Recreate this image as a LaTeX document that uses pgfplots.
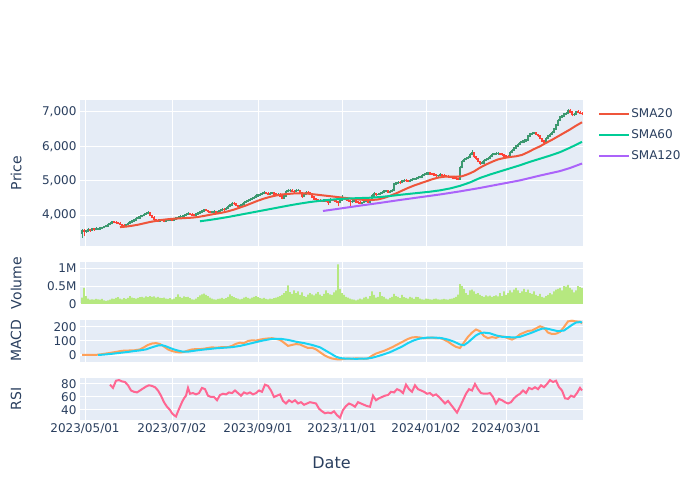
\documentclass[border=0pt]{standalone}
\usepackage{fontspec}
\setmainfont{DejaVu Sans}
\usepackage{pgfplots}
\usepackage{pgfplotstable}
\pgfplotsset{compat=1.18}
\definecolor{bgcol}{HTML}{E5ECF6}
\definecolor{textcol}{HTML}{2A3F5F}
\definecolor{upcol}{HTML}{3D9970}
\definecolor{dncol}{HTML}{FF4136}
\definecolor{smaA}{HTML}{EF553B}
\definecolor{smaB}{HTML}{00CC96}
\definecolor{smaC}{HTML}{AB63FA}
\definecolor{volcol}{HTML}{B6E880}
\definecolor{macdcol}{HTML}{FFA15A}
\definecolor{sigcol}{HTML}{19D3F3}
\definecolor{rsicol}{HTML}{FF6692}

\pgfplotstableread{
x o h l c v
82 3470 3600 3330 3550 0.18
84 3550 3590 3380 3530 0.45
86 3530 3580 3490 3540 0.22
88 3540 3610 3515 3570 0.15
90 3570 3600 3520 3560 0.12
92 3560 3630 3540 3590 0.13
94 3590 3615 3545 3580 0.12
96 3580 3640 3560 3600 0.14
98 3600 3630 3570 3600 0.13
100 3600 3660 3575 3620 0.12
102 3620 3665 3600 3630 0.14
104 3630 3690 3610 3660 0.10
106 3660 3720 3645 3680 0.09
108 3680 3760 3660 3720 0.10
110 3720 3790 3700 3750 0.12
112 3750 3830 3730 3800 0.15
114 3800 3840 3760 3790 0.14
116 3790 3820 3750 3780 0.17
118 3780 3810 3730 3760 0.19
120 3760 3790 3700 3720 0.15
122 3720 3750 3670 3700 0.13
124 3700 3730 3660 3690 0.16
126 3690 3750 3665 3720 0.14
128 3720 3790 3700 3760 0.17
130 3760 3840 3740 3800 0.22
132 3800 3860 3780 3830 0.18
134 3830 3900 3810 3860 0.16
136 3860 3930 3840 3900 0.15
138 3900 3960 3880 3920 0.17
140 3920 3990 3900 3950 0.19
142 3950 4010 3930 3980 0.20
144 3980 4060 3960 4020 0.18
146 4020 4080 4000 4050 0.21
148 4050 4110 4030 4070 0.19
150 4070 4090 3970 3990 0.22
152 3990 4010 3910 3930 0.20
154 3930 3960 3850 3880 0.21
156 3880 3900 3820 3850 0.18
158 3850 3880 3800 3830 0.20
160 3830 3890 3810 3860 0.17
162 3860 3890 3820 3850 0.16
164 3850 3870 3790 3820 0.18
166 3820 3880 3800 3840 0.15
168 3840 3890 3820 3860 0.14
170 3860 3910 3840 3870 0.16
172 3870 3900 3820 3850 0.13
174 3850 3910 3830 3880 0.15
176 3880 3950 3860 3910 0.19
178 3910 3970 3890 3930 0.27
180 3930 3990 3910 3950 0.20
182 3950 4000 3925 3960 0.17
184 3960 4030 3940 3990 0.21
186 3990 4050 3965 4010 0.19
188 4010 4080 3990 4040 0.20
190 4040 4070 3990 4020 0.16
192 4020 4050 3970 4000 0.13
194 4000 4030 3960 3990 0.12
196 3990 4060 3970 4030 0.15
198 4030 4100 4010 4060 0.19
200 4060 4130 4040 4090 0.24
202 4090 4160 4070 4120 0.27
204 4120 4190 4100 4150 0.29
206 4150 4190 4110 4140 0.25
208 4140 4160 4070 4100 0.22
210 4100 4130 4050 4080 0.18
212 4080 4120 4050 4090 0.15
214 4090 4140 4060 4100 0.13
216 4100 4130 4050 4080 0.12
218 4080 4150 4060 4110 0.14
220 4110 4180 4090 4140 0.15
222 4140 4210 4120 4170 0.17
224 4170 4200 4130 4160 0.14
226 4160 4240 4140 4200 0.16
228 4200 4290 4180 4250 0.20
230 4250 4330 4230 4290 0.27
232 4290 4380 4270 4340 0.22
234 4340 4380 4300 4330 0.19
236 4330 4350 4250 4280 0.16
238 4280 4300 4220 4250 0.15
240 4250 4320 4230 4280 0.13
242 4280 4350 4260 4310 0.14
244 4310 4400 4290 4360 0.18
246 4360 4440 4340 4400 0.20
248 4400 4470 4380 4430 0.17
250 4430 4500 4410 4460 0.15
252 4460 4530 4440 4490 0.18
254 4490 4560 4470 4520 0.20
256 4520 4600 4500 4560 0.22
258 4560 4620 4540 4580 0.19
260 4580 4640 4560 4600 0.16
262 4600 4660 4580 4620 0.15
264 4620 4690 4600 4650 0.17
266 4650 4680 4600 4630 0.14
268 4630 4660 4570 4600 0.13
270 4600 4660 4580 4620 0.15
272 4620 4680 4600 4640 0.14
274 4640 4670 4580 4610 0.16
276 4610 4640 4560 4590 0.18
278 4590 4640 4560 4600 0.20
280 4600 4630 4530 4560 0.22
282 4560 4580 4460 4490 0.25
284 4490 4600 4470 4560 0.30
286 4560 4720 4540 4680 0.36
288 4680 4750 4660 4710 0.52
290 4710 4760 4680 4720 0.33
292 4720 4750 4660 4690 0.28
294 4690 4720 4650 4680 0.38
296 4680 4750 4660 4710 0.30
298 4710 4760 4690 4720 0.35
300 4720 4740 4620 4650 0.25
302 4650 4670 4510 4540 0.32
304 4540 4640 4520 4600 0.22
306 4600 4700 4580 4660 0.20
308 4660 4690 4610 4640 0.26
310 4640 4670 4570 4600 0.30
312 4600 4620 4500 4530 0.27
314 4530 4550 4440 4470 0.24
316 4470 4500 4420 4450 0.29
318 4450 4480 4400 4430 0.33
320 4430 4460 4380 4420 0.26
322 4420 4450 4380 4410 0.22
324 4410 4480 4390 4440 0.28
326 4440 4460 4370 4400 0.38
328 4400 4430 4300 4380 0.30
330 4380 4490 4360 4450 0.27
332 4450 4480 4410 4440 0.25
334 4440 4460 4390 4420 0.32
336 4420 4440 4350 4390 0.38
338 4390 4420 4250 4370 1.10
340 4370 4470 4340 4430 0.42
342 4430 4570 4410 4520 0.30
344 4520 4540 4450 4480 0.25
346 4480 4500 4420 4450 0.20
348 4450 4470 4390 4420 0.18
350 4420 4440 4270 4390 0.15
352 4390 4430 4360 4400 0.13
354 4400 4450 4380 4410 0.12
356 4410 4430 4340 4380 0.10
358 4380 4410 4330 4370 0.12
360 4370 4400 4310 4350 0.15
362 4350 4390 4320 4360 0.13
364 4360 4420 4340 4390 0.18
366 4390 4440 4370 4400 0.20
368 4400 4420 4350 4380 0.15
370 4380 4460 4360 4420 0.22
372 4420 4600 4400 4560 0.35
374 4560 4660 4540 4620 0.25
376 4620 4640 4560 4590 0.18
378 4590 4640 4570 4600 0.20
380 4600 4670 4580 4630 0.33
382 4630 4690 4610 4650 0.22
384 4650 4740 4630 4700 0.20
386 4700 4740 4670 4700 0.15
388 4700 4720 4640 4670 0.13
390 4670 4720 4650 4680 0.17
392 4680 4760 4660 4720 0.20
394 4720 4940 4700 4900 0.28
396 4900 4970 4880 4930 0.22
398 4930 4990 4910 4950 0.20
400 4950 4980 4910 4940 0.16
402 4940 5030 4920 4990 0.25
404 4990 5050 4970 5010 0.19
406 5010 5040 4970 5000 0.17
408 5000 5030 4950 4980 0.15
410 4980 5050 4960 5010 0.20
412 5010 5070 4990 5030 0.18
414 5030 5090 5010 5050 0.14
416 5050 5100 5030 5060 0.20
418 5060 5130 5040 5090 0.19
420 5090 5150 5070 5110 0.15
422 5110 5190 5090 5150 0.13
424 5150 5220 5130 5180 0.12
426 5180 5240 5160 5200 0.15
428 5200 5260 5180 5220 0.14
430 5220 5250 5170 5200 0.13
432 5200 5230 5160 5190 0.12
434 5190 5220 5140 5170 0.14
436 5170 5200 5120 5150 0.15
438 5150 5180 5120 5150 0.13
440 5150 5210 5130 5170 0.12
442 5170 5200 5130 5160 0.13
444 5160 5190 5110 5140 0.14
446 5140 5170 5100 5130 0.13
448 5130 5160 5090 5120 0.12
450 5120 5150 5080 5110 0.14
452 5110 5140 5060 5090 0.15
454 5090 5120 5050 5080 0.17
456 5080 5110 5020 5060 0.20
458 5060 5090 5010 5050 0.26
460 5050 5420 5030 5380 0.55
462 5380 5600 5360 5560 0.50
464 5560 5660 5540 5620 0.42
466 5620 5700 5600 5650 0.30
468 5650 5720 5630 5680 0.25
470 5680 5800 5660 5760 0.38
472 5760 5880 5740 5820 0.40
474 5820 5840 5670 5700 0.35
476 5700 5720 5610 5640 0.28
478 5640 5660 5530 5560 0.30
480 5560 5580 5470 5500 0.25
482 5500 5560 5480 5520 0.22
484 5520 5620 5500 5580 0.20
486 5580 5650 5560 5610 0.24
488 5610 5690 5590 5650 0.21
490 5650 5740 5630 5700 0.23
492 5700 5800 5680 5760 0.20
494 5760 5820 5740 5780 0.22
496 5780 5830 5760 5790 0.24
498 5790 5830 5760 5790 0.21
500 5790 5820 5750 5780 0.30
502 5780 5810 5730 5760 0.22
504 5760 5780 5690 5720 0.35
506 5720 5750 5680 5710 0.25
508 5710 5740 5670 5700 0.30
510 5700 5860 5680 5820 0.38
512 5820 5920 5800 5880 0.32
514 5880 5990 5860 5950 0.40
516 5950 6050 5930 6010 0.45
518 6010 6100 5990 6060 0.38
520 6060 6150 6040 6110 0.30
522 6110 6170 6090 6130 0.35
524 6130 6200 6110 6160 0.42
526 6160 6220 6140 6180 0.33
528 6180 6340 6160 6300 0.40
530 6300 6400 6280 6360 0.30
532 6360 6420 6340 6380 0.28
534 6380 6430 6350 6390 0.35
536 6390 6410 6320 6350 0.25
538 6350 6370 6280 6310 0.22
540 6310 6330 6200 6230 0.28
542 6230 6250 6120 6150 0.20
544 6150 6180 6090 6130 0.18
546 6130 6260 6110 6220 0.22
548 6220 6340 6200 6300 0.25
550 6300 6390 6280 6350 0.30
552 6350 6440 6330 6400 0.27
554 6400 6540 6380 6500 0.35
556 6500 6660 6480 6620 0.40
558 6620 6790 6600 6750 0.42
560 6750 6890 6730 6850 0.45
562 6850 6920 6830 6880 0.38
564 6880 6980 6860 6940 0.50
566 6940 7000 6920 6960 0.48
568 6960 7090 6940 7040 0.53
570 7040 7080 6970 7000 0.45
572 7000 7030 6880 6920 0.40
574 6920 6970 6890 6930 0.32
576 6930 7040 6910 7000 0.38
578 7000 7050 6960 6990 0.50
580 6990 7020 6930 6960 0.47
582 6960 7000 6920 6950 0.44
}\candles

\pgfplotstableread{
x y
120 3650
126 3665
132 3690
138 3720
144 3760
150 3800
156 3830
162 3860
168 3880
174 3895
180 3905
186 3915
192 3925
198 3945
204 3975
210 4010
216 4040
222 4070
228 4110
234 4160
240 4220
246 4280
252 4350
258 4420
264 4480
270 4530
276 4570
282 4600
288 4615
294 4630
300 4635
306 4630
312 4610
318 4590
324 4570
330 4550
336 4530
342 4510
348 4490
354 4465
360 4450
366 4440
372 4440
378 4455
384 4500
390 4560
396 4630
402 4710
408 4790
414 4860
420 4920
426 4980
432 5040
438 5090
444 5115
450 5120
456 5115
462 5130
468 5190
474 5270
480 5380
486 5470
492 5550
498 5620
504 5660
510 5690
516 5710
522 5750
528 5830
534 5920
540 6000
546 6100
552 6190
558 6290
564 6390
570 6490
576 6600
582 6700
}\smaA

\pgfplotstableread{
x y
200 3820
210 3860
220 3905
230 3955
240 4010
250 4065
260 4120
270 4175
280 4230
290 4285
300 4335
310 4380
320 4415
330 4445
340 4470
350 4485
360 4495
370 4505
380 4525
390 4555
400 4590
410 4620
420 4650
430 4680
440 4720
450 4775
460 4850
470 4950
480 5080
490 5180
500 5270
510 5360
520 5450
530 5550
540 5640
550 5730
560 5830
570 5960
582 6130
}\smaB

\pgfplotstableread{
x y
323 4120
340 4190
360 4275
380 4355
400 4440
420 4520
440 4600
460 4690
480 4790
500 4900
520 5010
540 5150
560 5280
570 5370
582 5500
}\smaC

\pgfplotstableread{
x y
82 0
90 0
98 2
104 8
110 15
116 22
122 30
128 32
134 33
140 40
144 55
148 72
152 82
156 85
160 78
164 60
168 40
172 28
176 22
180 18
184 22
188 32
192 40
196 42
200 42
204 45
208 50
212 55
216 52
220 55
224 57
228 56
232 65
236 80
240 88
244 85
248 100
252 105
256 103
260 110
264 115
268 118
272 120
276 115
280 108
284 88
288 65
292 72
296 78
300 75
304 62
308 50
312 52
316 40
320 20
324 0
328 -15
332 -25
336 -30
340 -32
344 -28
348 -25
352 -28
356 -24
360 -26
364 -27
368 -25
372 -5
376 10
380 20
384 30
388 42
392 55
396 70
400 85
404 100
408 115
412 125
416 128
420 125
424 120
428 122
432 125
436 120
440 122
444 110
448 95
452 75
456 58
460 50
464 90
468 130
472 160
476 182
480 170
484 135
488 120
492 128
496 122
500 135
504 130
508 120
512 110
516 125
520 148
524 160
528 172
532 175
536 190
540 205
544 195
548 160
552 150
556 152
560 165
564 200
568 240
572 245
576 240
580 238
582 225
}\macd

\pgfplotstableread{
x y
98 0
104 3
110 7
116 12
122 17
128 22
134 28
140 33
146 40
152 55
158 68
162 70
166 62
170 50
176 35
182 25
188 24
194 30
200 36
208 42
216 48
224 52
232 56
240 65
248 78
256 92
264 105
272 115
280 116
288 108
296 95
304 85
312 72
320 55
326 30
332 5
336 -12
340 -22
346 -26
356 -27
366 -26
372 -20
378 -8
384 5
390 20
396 40
402 60
408 85
414 105
420 118
428 125
436 124
442 120
448 110
454 95
460 75
464 70
468 90
472 115
476 140
480 155
484 160
490 155
496 140
502 130
508 128
514 125
520 130
526 145
532 160
538 178
542 188
546 190
552 180
558 170
564 175
568 195
572 215
576 232
580 235
582 233
}\signal

\pgfplotstableread{
x y
110 79
113 74
116 85
119 86
122 84
125 83
128 78
131 70
134 68
137 67
140 70
143 73
146 76
149 78
152 77
155 75
158 70
161 62
164 52
167 45
170 40
172 35
174 32
176 30
178 38
180 45
182 52
184 58
186 62
188 74
190 65
193 66
196 64
199 66
202 74
205 72
208 62
211 60
214 60
217 55
220 63
223 65
226 64
229 67
232 66
235 70
238 66
241 62
244 67
247 65
250 67
253 64
256 66
259 70
262 68
265 79
268 77
271 70
274 60
277 62
280 64
283 54
286 50
289 55
292 52
295 55
298 50
301 52
304 48
307 50
310 52
313 51
316 50
319 42
322 38
325 35
328 36
331 35
334 38
337 32
340 28
343 40
346 46
349 50
352 48
355 45
358 52
361 50
364 48
367 46
370 45
373 62
376 55
379 58
382 60
385 62
388 63
391 68
394 67
397 72
400 70
403 66
406 79
409 72
412 68
415 78
418 72
421 70
424 68
427 65
430 66
433 62
436 64
439 60
442 55
445 50
448 54
451 48
454 42
457 36
460 45
463 55
466 65
469 72
472 70
475 80
478 72
481 66
484 65
487 65
490 66
493 60
496 50
499 57
502 55
505 52
508 50
511 52
514 58
517 62
520 65
523 70
526 66
529 74
532 72
535 75
538 72
541 78
544 75
547 80
550 86
553 83
556 85
559 75
562 70
565 58
568 57
571 62
574 60
577 66
580 74
582 70
}\rsi

\pgfplotsset{
  panel/.style={
    scale only axis, width=503pt, xmin=80, xmax=583,
    axis background/.style={fill=bgcol},
    axis line style={draw=none}, major tick length=0pt,
    grid=major, major grid style={white, line width=1pt},
    xtick={85,172,258,342,426,506},
    xticklabels={},
    tick label style={font=\fontsize{12}{14}\selectfont, text=textcol},
    /pgf/number format/assume math mode=true,
    every axis label/.append style={font=\fontsize{14}{16}\selectfont, text=textcol},
    every axis y label/.style={at={(axis description cs:-0.127,0.5)}, rotate=90, anchor=center},
    anchor=south west,
  },
}

\begin{document}
\begin{tikzpicture}
\path[fill=white] (0pt,0pt) rectangle (700pt,500pt);

% Price panel
\begin{axis}[panel, at={(80pt,254pt)}, height=146pt,
  ymin=3101, ymax=7348, ytick={4000,5000,6000,7000},
  yticklabels={{4,000},{5,000},{6,000},{7,000}},
  ylabel={Price},
  legend style={at={(1.03,0.95)}, anchor=north west, draw=none, fill=none,
    font=\fontsize{12}{14}\selectfont, text=textcol, row sep=8.5pt,
    inner sep=0pt, nodes={inner sep=1pt}},
  legend cell align=left,
  legend image code/.code={\draw[#1, line width=2pt] (0pt,0pt) -- (30pt,0pt);},
]
% wicks (low to high)
\addplot[forget plot, upcol, line width=1pt, -,
  restrict expr to domain={\thisrow{c}-\thisrow{o}}{0:100000},
  quiver={u=0, v={\thisrow{h}-\thisrow{l}}}] table[x=x, y=l] {\candles};
\addplot[forget plot, dncol, line width=1pt, -,
  restrict expr to domain={\thisrow{c}-\thisrow{o}}{-100000:-0.5},
  quiver={u=0, v={\thisrow{h}-\thisrow{l}}}] table[x=x, y=l] {\candles};
% bodies (open to close)
\addplot[forget plot, upcol, line width=2.4pt, -,
  restrict expr to domain={\thisrow{c}-\thisrow{o}}{0:100000},
  quiver={u=0, v={\thisrow{c}-\thisrow{o}+40}}] table[x=x, y expr={\thisrow{o}-20}] {\candles};
\addplot[forget plot, dncol, line width=2.4pt, -,
  restrict expr to domain={\thisrow{c}-\thisrow{o}}{-100000:-0.5},
  quiver={u=0, v={\thisrow{o}-\thisrow{c}+40}}] table[x=x, y expr={\thisrow{c}-20}] {\candles};
\addplot[smaA, line width=2pt, no marks] table {\smaA};
\addlegendentry{SMA20}
\addplot[smaB, line width=2pt, no marks] table {\smaB};
\addlegendentry{SMA60}
\addplot[smaC, line width=2pt, no marks] table {\smaC};
\addlegendentry{SMA120}
\end{axis}

% Volume panel
\begin{axis}[panel, at={(80pt,196pt)}, height=42pt,
  ymin=0, ymax=1.167, ytick={0,0.5,1}, yticklabels={0,0.5M,1M},
  ylabel={Volume}]
\addplot[ybar, bar width=1.6pt, fill=volcol, draw=none] table[x=x, y=v] {\candles};
\end{axis}

% MACD panel
\begin{axis}[panel, at={(80pt,138pt)}, height=42pt,
  ymin=-50, ymax=250, ytick={0,100,200}, ylabel={MACD}]
\addplot[white, line width=2pt, no marks] coordinates {(80,0) (583,0)};
\addplot[macdcol, line width=2pt, no marks] table {\macd};
\addplot[sigcol, line width=2pt, no marks] table {\signal};
\end{axis}

% RSI panel
\begin{axis}[panel, at={(80pt,80pt)}, height=42pt,
  ymin=24.6, ymax=89.2, ytick={40,60,80}, ylabel={RSI},
  xticklabels={2023/05/01,2023/07/02,2023/09/01,2023/11/01,2024/01/02,2024/03/01},
  xlabel={Date},
  every axis x label/.style={at={(axis description cs:0.5,-1.02)}, anchor=center, font=\fontsize{16}{18}\selectfont},
]
\addplot[rsicol, line width=2pt, no marks] table {\rsi};
\end{axis}
\end{tikzpicture}
\end{document}
